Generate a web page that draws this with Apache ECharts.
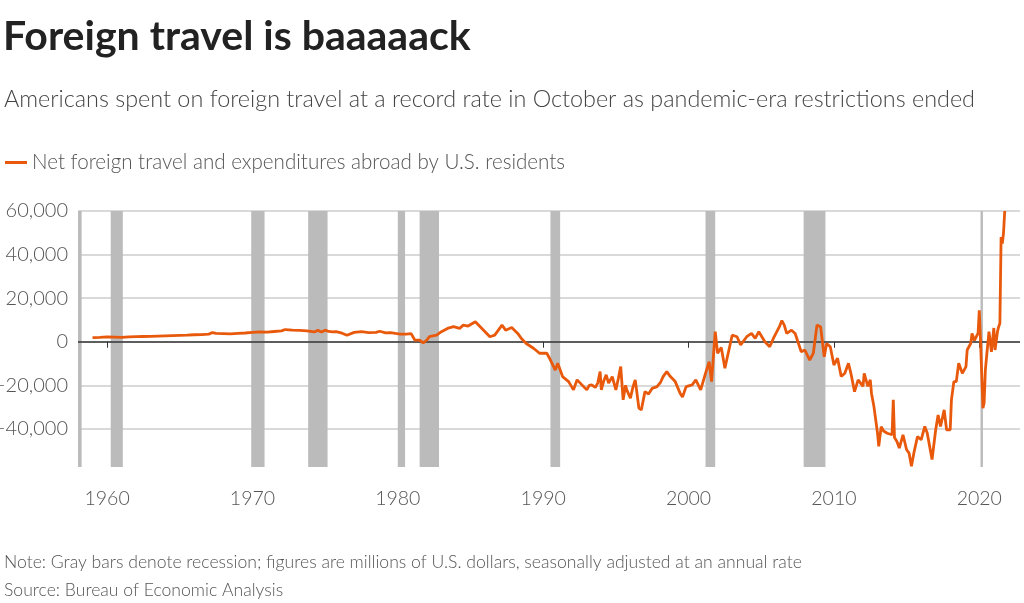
<!DOCTYPE html>
<html>
<head>
<meta charset="utf-8">
<script src="https://cdn.jsdelivr.net/npm/echarts@6/dist/echarts.min.js"></script>
<style>
html, body { margin: 0; padding: 0; background: #fff; }
#chart { width: 1024px; height: 603px; }
</style>
</head>
<body>
<div id="chart"></div>
<script>
// monthly readings, millions of USD (SAAR)
var months = [
    "1959-01","1959-07","1960-01","1960-07","1961-01","1961-07","1962-01","1962-07","1963-01","1963-07",
    "1964-01","1964-07","1965-01","1965-07","1966-01","1966-07","1967-01","1967-04","1967-07","1968-01",
    "1968-07","1969-01","1969-07","1970-01","1970-07","1971-01","1971-07","1972-01","1972-04","1972-10",
    "1973-04","1973-10","1974-04","1974-07","1974-10","1975-01","1975-04","1975-07","1975-10","1976-03",
    "1976-07","1977-01","1977-07","1978-01","1978-07","1978-10","1979-03","1979-07","1979-11","1980-03",
    "1980-08","1980-12","1981-03","1981-07","1981-10","1982-01","1982-03","1982-09","1983-01","1983-06",
    "1983-11","1984-04","1984-07","1984-11","1985-05","1985-09","1986-01","1986-05","1986-09","1987-03",
    "1987-06","1987-11","1988-04","1988-07","1988-11","1989-05","1989-10","1990-04","1990-07","1990-11",
    "1991-01","1991-05","1991-10","1992-02","1992-05","1992-09","1993-01","1993-03","1993-05","1993-08",
    "1993-10","1993-12","1994-01","1994-03","1994-05","1994-07","1994-10","1995-01","1995-03","1995-05",
    "1995-07","1995-09","1995-10","1996-01","1996-03","1996-05","1996-08","1996-10","1997-01","1997-04",
    "1997-07","1997-11","1998-02","1998-04","1998-07","1998-10","1999-02","1999-06","1999-08","1999-11",
    "2000-04","2000-07","2000-11","2001-03","2001-06","2001-08","2001-11","2002-01","2002-04","2002-07",
    "2003-01","2003-05","2003-08","2004-01","2004-05","2004-08","2004-11","2005-04","2005-08","2005-11",
    "2006-04","2006-06","2006-08","2006-10","2007-02","2007-05","2007-10","2008-01","2008-05","2008-08",
    "2008-11","2009-02","2009-05","2009-07","2009-10","2010-01","2010-04","2010-07","2010-10","2011-01",
    "2011-03","2011-06","2011-09","2012-01","2012-02","2012-05","2012-07","2012-08","2012-10","2013-01",
    "2013-02","2013-04","2013-06","2013-09","2014-01","2014-02","2014-03","2014-05","2014-07","2014-10",
    "2015-01","2015-03","2015-05","2015-07","2015-10","2016-01","2016-04","2016-06","2016-10","2017-01",
    "2017-03","2017-05","2017-08","2017-10","2018-01","2018-02","2018-04","2018-06","2018-08","2018-11",
    "2019-02","2019-03","2019-06","2019-07","2019-09","2019-12","2020-01","2020-02","2020-04","2020-05",
    "2020-06","2020-07","2020-09","2020-11","2021-01","2021-02","2021-04","2021-05","2021-06","2021-07",
    "2021-08","2021-09","2021-10"
];
var values = [
    1900, 2000, 2200, 2100, 2000, 2200, 2300, 2400, 2500, 2600,
    2700, 2800, 2900, 3000, 3200, 3300, 3500, 4200, 3800, 3700,
    3600, 3800, 4000, 4300, 4500, 4400, 4700, 5000, 5600, 5300,
    5200, 5000, 4500, 5200, 4500, 5300, 4700, 4500, 4600, 3900,
    3000, 4300, 4600, 4200, 4300, 4800, 4100, 4200, 3800, 3500,
    3500, 3700, 800, 700, -500, 800, 2300, 3000, 4600, 6100,
    6900, 6100, 7600, 7200, 9200, 6900, 4600, 2300, 3000, 7600,
    5300, 6500, 3800, 1500, -800, -3000, -5300, -5300, -8400, -13000,
    -9900, -16000, -18300, -22100, -17500, -19800, -22100, -20000, -19800, -21000,
    -19000, -13700, -22100, -18000, -15200, -19000, -16000, -22100, -17000, -11400,
    -26700, -20000, -22100, -25900, -21000, -17500, -30500, -31300, -22900, -24000,
    -21400, -20600, -18500, -16000, -13700, -16000, -18300, -23600, -25400, -20600,
    -19800, -17500, -22100, -14500, -9200, -18300, 4600, -5300, -2600, -12200,
    3000, 2300, -1500, 2300, 3800, 1500, 4600, 0, -2300, 1500,
    6900, 9700, 7600, 3800, 5300, 3800, -4600, -3800, -8400, -5300,
    7600, 6900, -6900, -800, -2300, -10700, -7600, -16000, -14500, -9900,
    -14500, -22900, -17500, -20500, -14500, -20500, -17500, -23600, -29700, -42000,
    -48000, -39000, -41000, -42000, -42700, -26700, -44000, -45800, -48800, -42700,
    -49600, -51100, -57200, -51100, -43500, -45000, -38900, -41900, -54100, -40400,
    -33600, -38900, -31300, -40400, -40400, -26700, -18300, -18300, -9900, -14500,
    -11400, -3800, -700, 3800, 600, 4000, 14400, 700, -30500, -28000,
    -13000, -6900, 4600, -4600, 6300, -3800, 4600, 6900, 8500, 48000,
    45000, 50000, 60000
];
// NBER recessions, peak to trough
var recessions = [
    ["1957-08", "1958-04"], ["1960-04", "1961-02"], ["1969-12", "1970-11"],
    ["1973-11", "1975-03"], ["1980-01", "1980-07"], ["1981-07", "1982-11"],
    ["1990-07", "1991-03"], ["2001-03", "2001-11"], ["2007-12", "2009-06"],
    ["2020-02", "2020-04"]
];
var xTicks = [1960, 1970, 1980, 1990, 2000, 2010, 2020];
var yTicks = [-40000, -20000, 0, 20000, 40000, 60000];

var xMin = 1958, xMax = 2022.8;
var font = "Lato";

function toYear(s) {
    var p = s.split("-");
    return +p[0] + (+p[1] - 1) / 12;
}

function fmt(v) {
    var s = Math.abs(v).toLocaleString("en-US");
    return v < 0 ? "\u2212" + s : s;
}

var lineData = months.map(function (m, i) {
    return [toYear(m), values[i]];
});

var areas = recessions.map(function (r) {
    return [{ xAxis: Math.max(toYear(r[0]), xMin) }, { xAxis: toYear(r[1]) }];
});

var option = {
    animation: false,
    backgroundColor: "#fff",
    textStyle: { fontFamily: font },
    title: [
        {
            text: "Foreign travel is baaaaack",
            left: -2, top: 11,
            textStyle: { fontFamily: font, fontSize: 41, fontWeight: "bold", color: "#222" }
        },
        {
            text: "Americans spent on foreign travel at a record rate in October as pandemic-era restrictions ended",
            left: -1, top: 83,
            textStyle: { fontFamily: font, fontSize: 23.4, fontWeight: 300, color: "#444" }
        },
        {
            text: "Note: Gray bars denote recession; figures are millions of U.S. dollars, seasonally adjusted at an annual rate",
            left: -1, top: 548,
            textStyle: { fontFamily: font, fontSize: 17.6, fontWeight: 300, color: "#555" }
        },
        {
            text: "Source: Bureau of Economic Analysis",
            left: -1, top: 576,
            textStyle: { fontFamily: font, fontSize: 17.6, fontWeight: 300, color: "#555" }
        }
    ],
    legend: {
        left: 0, top: 147,
        itemWidth: 22, itemHeight: 3,
        data: [{ name: "Net foreign travel and expenditures abroad by U.S. residents", icon: "rect" }],
        textStyle: { fontFamily: font, fontSize: 20.6, fontWeight: 300, color: "#555", padding: [0, 0, 0, 0] }
    },
    grid: { left: 78, right: 4, top: 211, bottom: 136, containLabel: false, outerBoundsMode: "none" },
    xAxis: {
        type: "value",
        min: xMin, max: xMax,
        offset: 3,
        axisLine: { show: false },
        splitLine: { show: false },
        axisTick: { show: true, length: 6, customValues: xTicks, lineStyle: { color: "#333", width: 1 } },
        axisLabel: {
            customValues: xTicks,
            margin: 19,
            fontFamily: font, fontSize: 19.5, fontWeight: 300, color: "#555",
            formatter: function (v) { return String(Math.round(v)); }
        }
    },
    yAxis: {
        type: "value",
        min: -57500, max: 60000,
        axisLine: { show: false },
        axisTick: { show: false },
        splitLine: { show: true, showMinLine: false, lineStyle: { color: "#ccc", width: 1.5 } },
        axisLabel: {
            customValues: yTicks,
            margin: 10,
            fontFamily: font, fontSize: 20, fontWeight: 300, color: "#555",
            formatter: fmt
        }
    },
    series: [
        {
            name: "Net foreign travel and expenditures abroad by U.S. residents",
            type: "line",
            data: lineData,
            showSymbol: false,
            symbol: "none",
            z: 5,
            lineStyle: { color: "#e8590c", width: 2.8 },
            itemStyle: { color: "#e8590c" },
            markArea: {
                silent: true,
                z: 1,
                itemStyle: { color: "#bbbbbb", opacity: 1 },
                data: areas
            }
        },
        {
            type: "line",
            data: [],
            z: 4,
            markLine: {
                silent: true,
                symbol: "none",
                label: { show: false },
                lineStyle: { color: "#333", type: "solid", width: 1.5 },
                data: [{ yAxis: 0 }]
            }
        }
    ]
};

var chart = echarts.init(document.getElementById("chart"));
chart.setOption(option);
</script>
</body>
</html>
